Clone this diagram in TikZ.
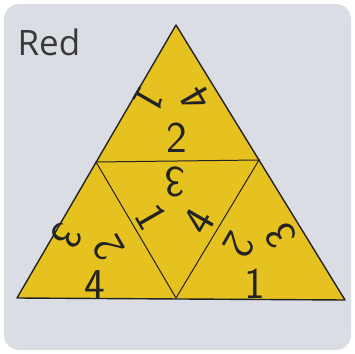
\documentclass[tikz,border=0pt]{standalone}
\usepackage{fontspec}
\usepackage{xcolor}
\usepackage{tikz}
\newfontfamily\labelfont{Open Sans}
\definecolor{paper}{RGB}{219,221,228}
\definecolor{cardyellow}{RGB}{230,194,32}
\definecolor{ink}{RGB}{35,35,35}

\begin{document}
\begin{tikzpicture}[x=1pt,y=1pt,
	num/.style={font=\sffamily\fontsize{44}{44}\selectfont,text=ink,inner sep=0pt}]
	 \fill[white](0,0)rectangle(355,353);
	 \fill[paper,rounded corners=15](4,3)rectangle(351,349);
	 \useasboundingbox(0,0)rectangle(355,353);
	 \coordinate(A)at(176,328);\coordinate(B)at(17,55);\coordinate(C)at(345,53);
	 \coordinate(L)at(96,191);\coordinate(R)at(259,193);\coordinate(M)at(176,55);
	 \fill[cardyellow](A)--(B)--(C)--cycle;
	 \draw[ink,line width=1.4pt,line join=round](A)--(B)--(C)--cycle;
	 \draw[ink,line width=1pt](L)--(R)--(M)--cycle;
	 \node[anchor=west,text=ink!90,font=\labelfont\fontsize{35}{35}\selectfont](title)at(14,311){Red};
	 % top piece
	 \node[num](t2)at(177,215){2};
	 \node[num,rotate=-120](t1)at(149,253){1};
	 \node[num,rotate=120](t4)at(196,254){4};
	 % middle piece
	 \node[num,rotate=180](m3)at(175,171){3};
	 \node[num,rotate=-60](m1)at(151,136){1};
	 \node[num,rotate=60](m4)at(199,132){4};
	 % left piece
	 \node[num,rotate=-120](l3)at(67,117){3};
	 \node[num,rotate=120](l2)at(109,105){2};
	 \node[num](l4)at(95,68){4};
	 % right piece
	 \node[num,rotate=-120](r2)at(239,108){2};
	 \node[num,rotate=120](r3)at(281,117){3};
	 \node[num](r1)at(255,69){1};
	\end{tikzpicture}
\end{document}
